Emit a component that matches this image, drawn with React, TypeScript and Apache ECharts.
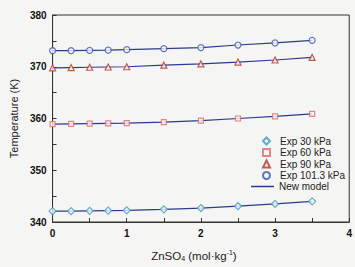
import React, { useEffect, useRef } from "react";
import * as echarts from "echarts";

const molality = [0, 0.25, 0.5, 0.75, 1, 1.5, 2, 2.5, 3, 3.5];
const exp30 = [342.1, 342.1, 342.15, 342.2, 342.25, 342.45, 342.7, 343.05, 343.5, 344.0];
const exp60 = [358.9, 358.95, 359.0, 359.05, 359.1, 359.3, 359.6, 360.0, 360.4, 360.9];
const exp90 = [369.8, 369.85, 369.9, 369.95, 370.0, 370.3, 370.55, 370.9, 371.3, 371.8];
const exp101 = [373.1, 373.1, 373.15, 373.2, 373.3, 373.5, 373.7, 374.2, 374.6, 375.1];
const model30 = exp30;
const model60 = exp60;
const model90 = exp90;
const model101 = exp101;

const yTicks = [340, 350, 360, 370, 380];
const xTicks = [0, 1, 2, 3, 4];
const expNames = ["Exp 30 kPa", "Exp 60 kPa", "Exp 90 kPa", "Exp 101.3 kPa"];
const modelName = "New model";

const BG = "#f5f5f3";
const FONT = "Liberation Sans, Arial, sans-serif";

const pairs = (ys: number[]) => molality.map((x, i) => [x, ys[i]]);

export default function App() {
  const ref = useRef<HTMLDivElement>(null);
  useEffect(() => {
    if (!ref.current) return;
    const chart = echarts.init(ref.current, null, { renderer: "svg" });
    const lineColor = "#2c3b8f";
    const modelSeries = [model30, model60, model90, model101].map((m) => ({
      name: modelName,
      type: "line",
      data: pairs(m),
      symbol: "none",
      lineStyle: { color: lineColor, width: 1.2 },
      itemStyle: { color: lineColor },
      z: 2,
    }));
    const expDefs = [
      { data: exp30, symbol: "diamond", size: 7, color: "#3d9cc0" },
      { data: exp60, symbol: "rect", size: 5, color: "#e06a6a" },
      { data: exp90, symbol: "triangle", size: 6, color: "#b8322e" },
      { data: exp101, symbol: "circle", size: 6, color: "#3a55b5" },
    ];
    const expSeries = expDefs.map((d, i) => ({
      name: expNames[i],
      type: "scatter",
      data: pairs(d.data),
      symbol: d.symbol,
      symbolSize: d.size,
      itemStyle: { color: BG, borderColor: d.color, borderWidth: 1.2 },
      z: 3,
    }));
    const legendText = { fontSize: 10, color: "#222", lineHeight: 11, fontFamily: FONT };
    chart.setOption({
      animation: false,
      backgroundColor: BG,
      textStyle: { fontFamily: FONT },
      grid: {
        left: 45,
        top: 15,
        width: 309,
        height: 215,
        show: true,
        borderColor: "#333",
        borderWidth: 1,
      },
      legend: [
        {
          orient: "vertical",
          left: 257,
          top: 130.5,
          itemWidth: 7,
          itemHeight: 7,
          itemGap: 0.5,
          textStyle: { ...legendText, padding: [0, 0, 0, 5] },
          data: expNames,
        },
        {
          orient: "vertical",
          left: 246,
          top: 176,
          itemWidth: 23,
          itemHeight: 1.5,
          textStyle: { ...legendText, padding: [0, 0, 0, 0] },
          data: [{ name: modelName, icon: "rect" }],
        },
      ],
      xAxis: {
        type: "value",
        min: 0,
        max: 4,
        interval: 0.5,
        name: "ZnSO{sub|4} (mol·kg{sup|-1})",
        nameLocation: "middle",
        nameGap: 27,
        nameTextStyle: {
          fontSize: 11.5,
          color: "#222",
          fontFamily: FONT,
          padding: [0, 14, 0, 0],
          rich: {
            sub: { fontSize: 7, verticalAlign: "bottom", padding: [6, 0, 0, 0] },
            sup: { fontSize: 7, verticalAlign: "top", padding: [0, 0, 6, 0] },
          },
        },
        axisLine: { lineStyle: { color: "#333", width: 1 } },
        axisTick: { inside: true, length: 4, lineStyle: { color: "#333" } },
        splitLine: { show: false },
        axisLabel: {
          color: "#111",
          fontSize: 10,
          fontWeight: "bold",
          margin: 6,
          formatter: (v: number) => (xTicks.includes(v) ? String(v) : ""),
        },
      },
      yAxis: {
        type: "value",
        min: 340,
        max: 380,
        interval: 5,
        name: "Temperature (K)",
        nameLocation: "middle",
        nameGap: 29,
        nameTextStyle: { fontSize: 11, color: "#222", fontFamily: FONT },
        axisLine: { show: true, lineStyle: { color: "#333", width: 1 } },
        axisTick: { show: true, inside: true, length: 4, lineStyle: { color: "#333" } },
        splitLine: { show: false },
        axisLabel: {
          color: "#111",
          fontSize: 10,
          fontWeight: "bold",
          margin: 6,
          formatter: (v: number) => (yTicks.includes(v) ? String(v) : ""),
        },
      },
      series: [...modelSeries, ...expSeries],
    });
    return () => chart.dispose();
  }, []);
  return (
    <div
      ref={ref}
      style={{ position: "fixed", left: 0, top: 0, width: 355, height: 267 }}
    />
  );
}
